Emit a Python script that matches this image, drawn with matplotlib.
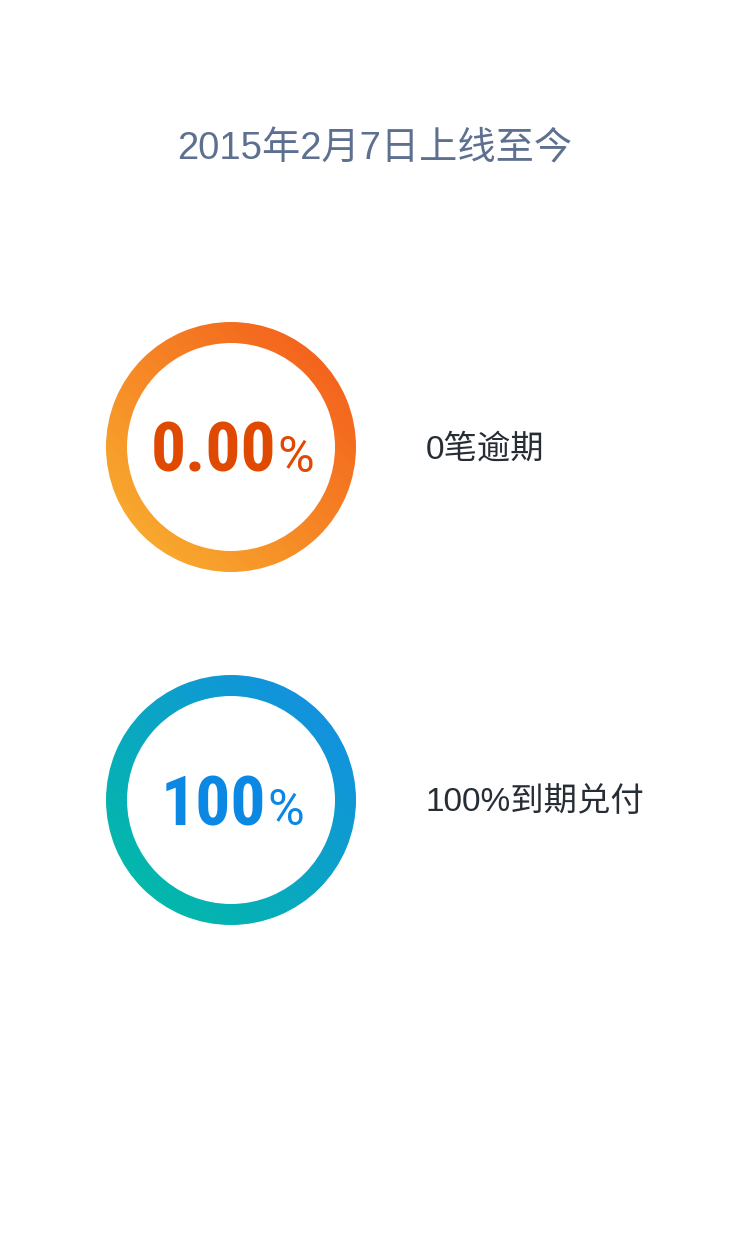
import numpy as np
import matplotlib
matplotlib.use("Agg")
import matplotlib.pyplot as plt
from matplotlib.patches import Wedge
from matplotlib.colors import LinearSegmentedColormap

cjk = ['Liberation Sans', 'Noto Sans CJK SC', 'Noto Sans CJK JP', 'DejaVu Sans']
plt.rcParams['font.family'] = cjk

# data
title = "2015年2月7日上线至今"
values = [0.00, 100]
value_labels = ["0.00", "100"]
captions = ["0笔逾期", "100%到期兑付"]

# style
ring_colors = [("#f9b631", "#f3561a"), ("#00c0a0", "#168ae9")]
text_colors = ["#e04902", "#0b87e4"]

W, H = 750, 1260
fig = plt.figure(figsize=(W / 100, H / 100), dpi=100)
ax = fig.add_axes([0, 0, 1, 1])
ax.set_xlim(0, W)
ax.set_ylim(H, 0)
ax.axis("off")

ax.text(375, 149, title, ha="center", va="center", fontsize=27.5, color="#5d7090")

cx = 231
cys = [447, 800]
r_out, ring_w = 125, 21

n = 400
gx, gy = np.meshgrid(np.linspace(-1, 1, n), np.linspace(-1, 1, n))
grad = np.clip(((gx - gy) / 2 + 1) / 2, 0, 1)

for i, v in enumerate(values):
    cy = cys[i]
    cmap = LinearSegmentedColormap.from_list("g%d" % i, ring_colors[i])
    im = ax.imshow(grad, cmap=cmap, vmin=0, vmax=1, origin="upper",
                   extent=[cx - r_out, cx + r_out, cy + r_out, cy - r_out],
                   interpolation="bilinear", zorder=1)
    ring = Wedge((cx, cy), r_out, 0, 360, width=ring_w, transform=ax.transData,
                 facecolor="none", edgecolor="none")
    ax.add_patch(ring)
    im.set_clip_path(ring)

    # big number + small percent sign
    base = cy + 25
    t = ax.text(0, base, value_labels[i], ha="left", va="baseline",
                fontsize=50, fontweight="bold", family="Roboto Condensed", color=text_colors[i])
    p = ax.text(0, base, "%", ha="left", va="baseline",
                fontsize=36, family="Roboto", color=text_colors[i])
    fig.canvas.draw()
    r = fig.canvas.get_renderer()
    wt = t.get_window_extent(r).width
    wp = p.get_window_extent(r).width
    gap = 1
    x0 = cx - (wt + gap + wp) / 2 + 1
    t.set_x(x0)
    p.set_x(x0 + wt + gap)

    ax.text(426, cy + 3, captions[i], ha="left", va="center", fontsize=24, color="#272d35")

fig.savefig("out.png", dpi=100, facecolor="white")
